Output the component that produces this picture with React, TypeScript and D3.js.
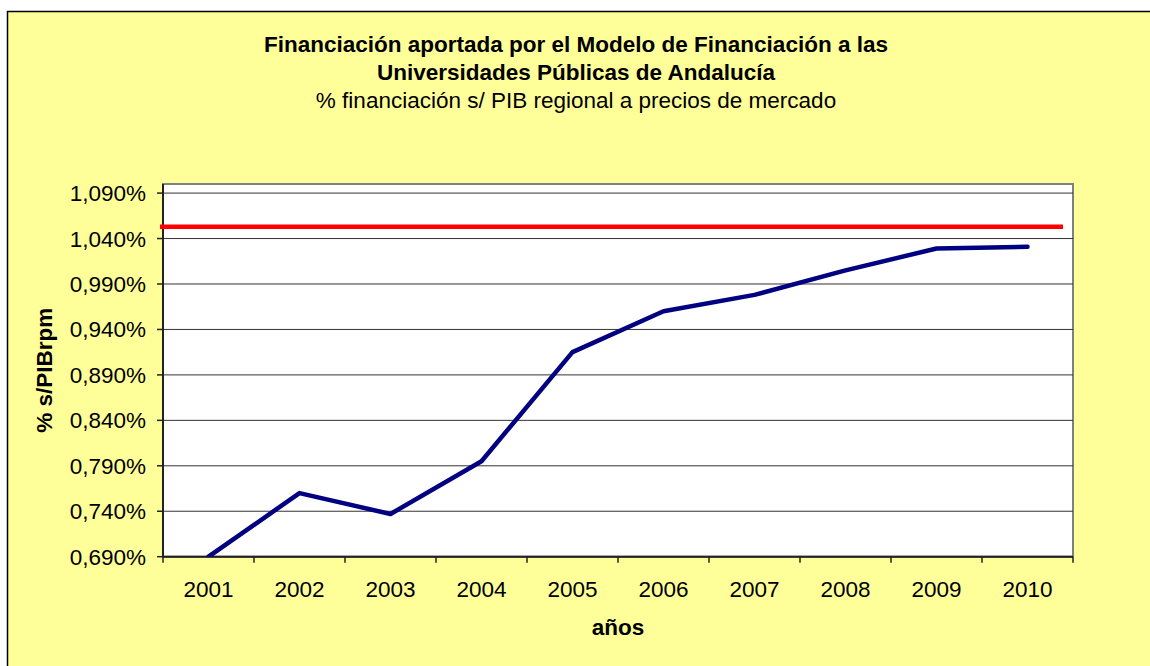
import React from 'react';
import * as d3 from 'd3';

const years = ['2001', '2002', '2003', '2004', '2005', '2006', '2007', '2008', '2009', '2010'];
const financingPct = [0.690, 0.760, 0.737, 0.795, 0.915, 0.960, 0.978, 1.005, 1.029, 1.031];
const targetPct = 1.053;
const yTicks = [0.69, 0.74, 0.79, 0.84, 0.89, 0.94, 0.99, 1.04, 1.09];
const yDomain = [0.69, 1.10];
const titleBold = [
  'Financiación aportada por el Modelo de Financiación a las',
  'Universidades Públicas de Andalucía',
];
const subtitle = '% financiación s/ PIB regional a precios de mercado';
const xTitle = 'años';
const yTitle = '% s/PIBrpm';

const W = 1150;
const H = 666;
const plot = { left: 163, right: 1073, top: 184, bottom: 556.7 };
const FONT = '"Liberation Sans", Arial, sans-serif';
const FS = 22.5;
const LS = 0;

export default function App() {
  const x = d3.scaleBand<string>().domain(years).range([plot.left, plot.right]).padding(0);
  const bw = x.bandwidth();
  const y = d3.scaleLinear().domain(yDomain).range([plot.bottom, plot.top]);
  const fmt = (v: number) => d3.format('.3f')(v).replace('.', ',') + '%';
  const line = d3
    .line<number>()
    .x((_, i) => (x(years[i]) as number) + bw / 2)
    .y((d) => y(d));
  const boundaries = years.map((yr) => x(yr) as number).concat([plot.right]);
  const cx = 576;

  return (
    <svg
      width={W}
      height={H}
      style={{ position: 'absolute', left: 0, top: 0, display: 'block' }}
      fontFamily={FONT}
    >
      <defs>
        <clipPath id="plotClip">
          <rect x={plot.left} y={plot.top} width={plot.right - plot.left} height={plot.bottom - plot.top} />
        </clipPath>
      </defs>
      <rect x={0} y={0} width={W} height={H} fill="#ffffff" />
      <rect x={7.5} y={11.5} width={W + 20} height={H + 20} fill="#FFFF99" stroke="#000" strokeWidth={1.5} />

      {/* titles */}
      <text x={cx} y={52} textAnchor="middle" fontWeight="bold" fontSize={FS} letterSpacing={LS} fill="#000">
        {titleBold[0]}
      </text>
      <text x={cx} y={80} textAnchor="middle" fontWeight="bold" fontSize={FS} letterSpacing={LS} fill="#000">
        {titleBold[1]}
      </text>
      <text x={cx} y={108} textAnchor="middle" fontSize={FS} letterSpacing={LS} fill="#000">
        {subtitle}
      </text>

      {/* plot area */}
      <rect
        x={plot.left}
        y={plot.top}
        width={plot.right - plot.left}
        height={plot.bottom - plot.top}
        fill="#ffffff"
        stroke="#808080"
        strokeWidth={2}
      />

      {/* gridlines */}
      {yTicks.map((t) => (
        <line key={'g' + t} x1={plot.left} x2={plot.right} y1={y(t)} y2={y(t)} stroke="#333" strokeWidth={1} />
      ))}

      {/* axes */}
      <line x1={plot.left} x2={plot.left} y1={plot.top} y2={plot.bottom} stroke="#222" strokeWidth={2} />
      <line x1={plot.left} x2={plot.right} y1={plot.bottom} y2={plot.bottom} stroke="#222" strokeWidth={2} />

      {yTicks.map((t) => (
        <g key={'yt' + t}>
          <line x1={plot.left - 6} x2={plot.left} y1={y(t)} y2={y(t)} stroke="#222" strokeWidth={1.5} />
          <text x={146} y={y(t) + 8} textAnchor="end" fontSize={FS} letterSpacing={LS} fill="#000">
            {fmt(t)}
          </text>
        </g>
      ))}

      {boundaries.map((b, i) => (
        <line key={'xt' + i} x1={b} x2={b} y1={plot.bottom} y2={plot.bottom + 6} stroke="#222" strokeWidth={1.5} />
      ))}
      {years.map((yr) => (
        <text
          key={'xl' + yr}
          x={(x(yr) as number) + bw / 2}
          y={597}
          textAnchor="middle"
          fontSize={FS}
          letterSpacing={LS}
          fill="#000"
        >
          {yr}
        </text>
      ))}

      {/* axis titles */}
      <text
        x={(plot.left + plot.right) / 2}
        y={635}
        textAnchor="middle"
        fontWeight="bold"
        fontSize={FS}
        letterSpacing={LS}
        fill="#000"
      >
        {xTitle}
      </text>
      <text
        transform={`translate(52, ${(plot.top + plot.bottom) / 2}) rotate(-90)`}
        textAnchor="middle"
        fontWeight="bold"
        fontSize={FS}
        letterSpacing={LS}
        fill="#000"
      >
        {yTitle}
      </text>

      {/* series */}
      <line
        x1={plot.left - 3}
        x2={plot.right - 10}
        y1={y(targetPct)}
        y2={y(targetPct)}
        stroke="#FF0000"
        strokeWidth={4.5}
      />
      <path
        d={line(financingPct) || ''}
        fill="none"
        stroke="#000080"
        strokeWidth={4.5}
        strokeLinejoin="round"
        strokeLinecap="round"
        clipPath="url(#plotClip)"
      />
    </svg>
  );
}
